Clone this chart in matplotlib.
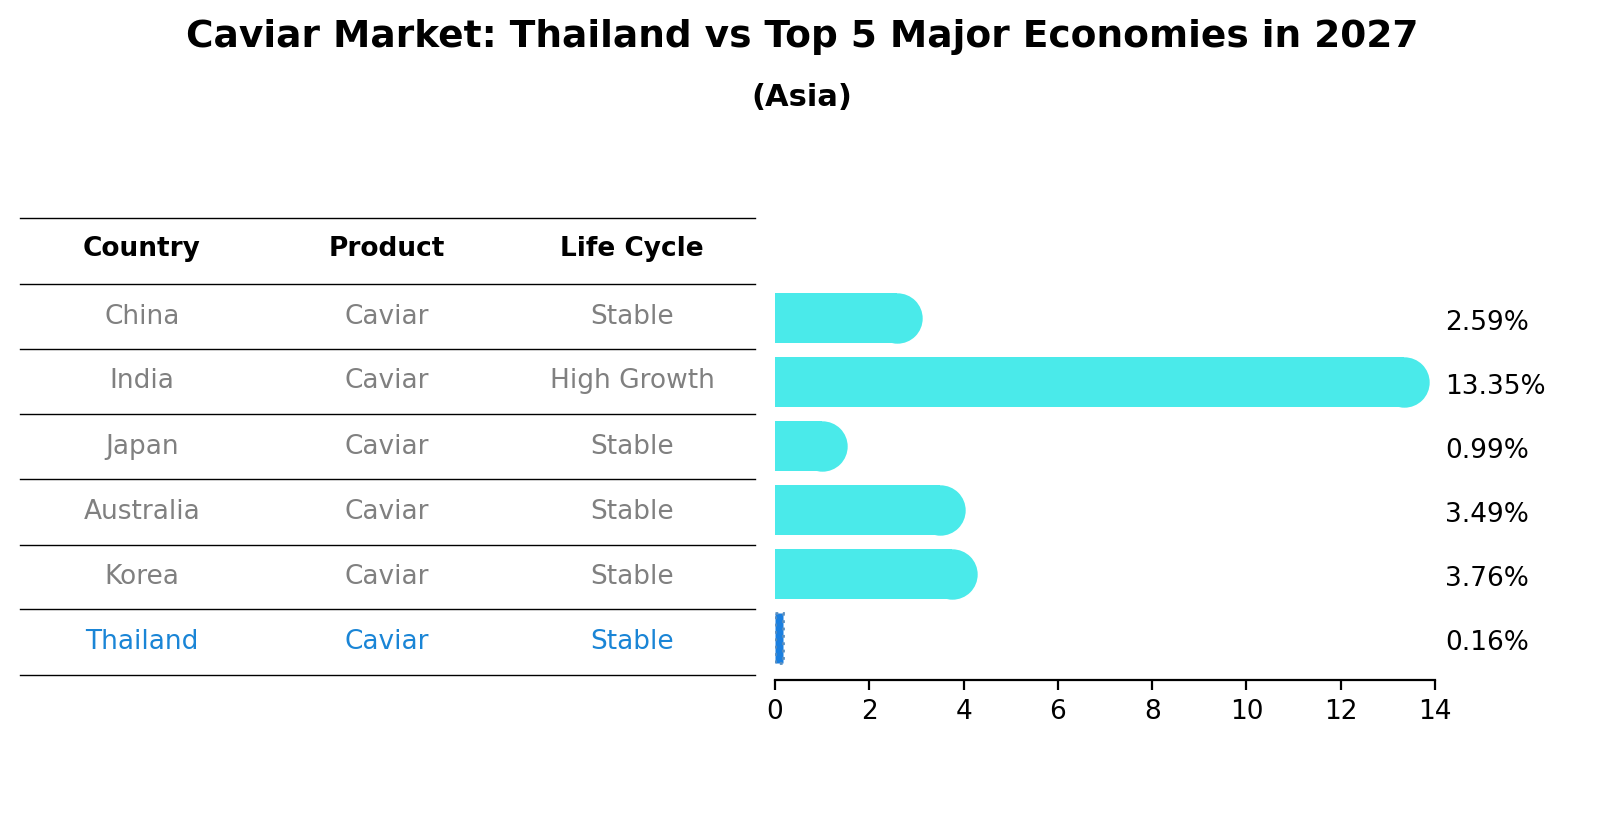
import matplotlib
matplotlib.use("Agg")
import matplotlib.pyplot as plt
from matplotlib.lines import Line2D

countries = ["China", "India", "Japan", "Australia", "Korea", "Thailand"]
products = ["Caviar"] * 6
life_cycle = ["Stable", "High Growth", "Stable", "Stable", "Stable", "Stable"]
values = [2.59, 13.35, 0.99, 3.49, 3.76, 0.16]
headers = ["Country", "Product", "Life Cycle"]
xticks = [0, 2, 4, 6, 8, 10, 12, 14]

W, H = 1604, 823
fig = plt.figure(figsize=(W / 200, H / 200), dpi=200)

def fx(px): return px / W
def fy(py): return 1 - py / H

fig.text(0.5, fy(37), "Caviar Market: Thailand vs Top 5 Major Economies in 2027",
         ha="center", va="center", fontsize=13.5, fontweight="bold")
fig.text(0.5, fy(97), "(Asia)", ha="center", va="center", fontsize=11, fontweight="bold")

# table
line_y = [218, 284, 349, 414, 479, 545, 609, 675]
for ly in line_y:
    fig.add_artist(Line2D([fx(20), fx(755)], [fy(ly), fy(ly)], color="black", lw=0.5))
col_x = [142, 387, 632]
for cx, h in zip(col_x, headers):
    fig.text(fx(cx), fy(249), h, ha="center", va="center", fontsize=9.5, fontweight="bold")
for i, row in enumerate(zip(countries, products, life_cycle)):
    yc = (line_y[i + 1] + line_y[i + 2]) / 2
    col = "#1a85d6" if row[0] == "Thailand" else "gray"
    for cx, t in zip(col_x, row):
        fig.text(fx(cx), fy(yc), t, ha="center", va="center", fontsize=9.5, color=col)

ax = fig.add_axes([fx(775), fy(680), fx(1435) - fx(775), fy(276) - fy(680)])
ax.set_xlim(0, 14)
ax.set_ylim(5.65, -0.65)
bh = 0.78
diam_px = bh * 64.6
for i, v in enumerate(values):
    if countries[i] == "Thailand":
        ax.barh(i, v, height=bh, color="#1a7fe0", edgecolor="#5a8fc0", linestyle=":", lw=1)
    else:
        ax.barh(i, v, height=bh, color="#4aeaea", lw=0)
        ax.scatter([v], [i], s=(diam_px * 72 / 200) ** 2,
                   color="#4aeaea", lw=0, zorder=3, clip_on=False)
    ax.text(1.015, i + 0.08, f"{v:.2f}%", transform=ax.get_yaxis_transform(),
            ha="left", va="center", fontsize=9.5)
ax.set_xticks(xticks)
ax.tick_params(axis="x", labelsize=9.5)
ax.set_yticks([])
for s in ["top", "right", "left"]:
    ax.spines[s].set_visible(False)

fig.savefig("out.png", dpi=200)
